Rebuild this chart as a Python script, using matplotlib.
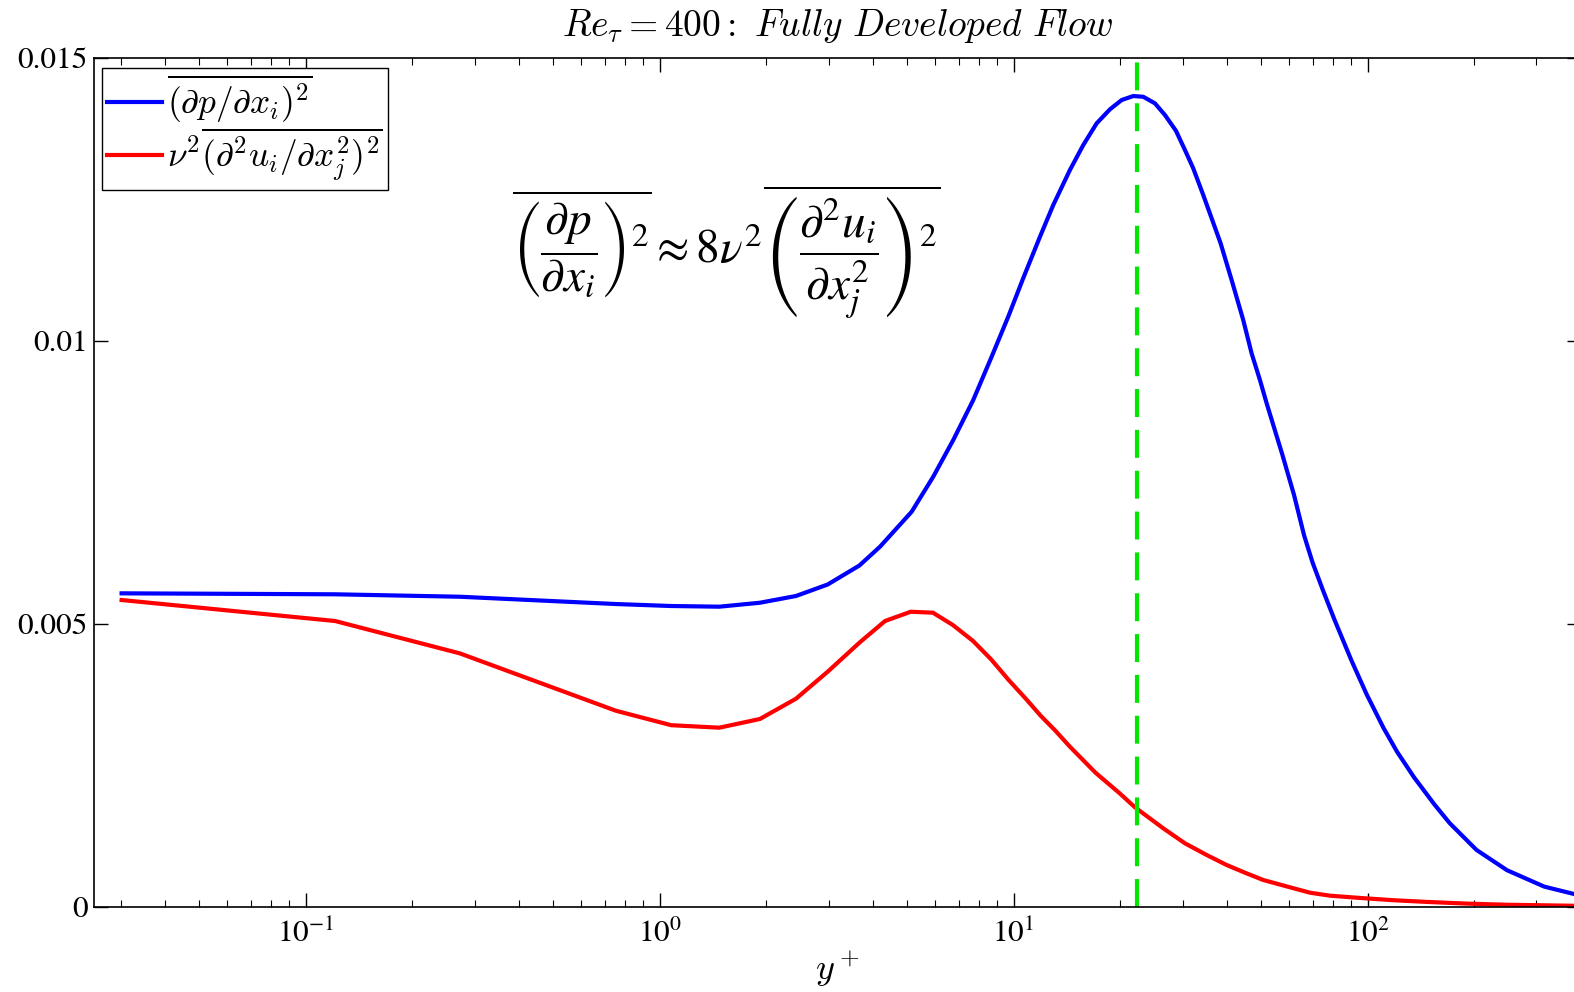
import numpy as np
import matplotlib
matplotlib.use("Agg")
import matplotlib.pyplot as plt
from matplotlib.ticker import FixedLocator, LogLocator, NullFormatter, NullLocator

plt.rcParams["font.family"] = ["STIXGeneral", "DejaVu Serif"]
plt.rcParams["mathtext.fontset"] = "stix"

# wall-normal coordinate and the two budget terms
yplus_p = [0.0302, 0.1211, 0.2723, 0.7519, 1.078, 1.474, 1.920, 2.427, 2.983, 3.667,
           4.193, 5.152, 5.928, 6.752, 7.690, 8.667, 9.654, 10.64, 11.87, 12.94,
           14.42, 15.73, 17.16, 18.71, 20.19, 21.78, 23.23, 25.07, 26.76, 28.74,
           30.48, 32.17, 34.33, 36.26, 38.44, 41.29, 44.53, 47.02, 49.64, 51.9,
           57.4, 61.97, 66.17, 69.92, 74.67, 80.68, 90.06, 99.4, 111.0, 121.2,
           135.2, 154.3, 170.3, 203.0, 247.6, 315.5, 400.0]
dpdx2 = [0.005542, 0.005525, 0.005482, 0.005353, 0.005318, 0.005306, 0.005376, 0.005495,
         0.005698, 0.006034, 0.006366, 0.006984, 0.007603, 0.008251, 0.008958, 0.009723,
         0.010429, 0.011108, 0.011843, 0.012403, 0.013021, 0.013463, 0.013846, 0.014094,
         0.014258, 0.014329, 0.014316, 0.014200, 0.013993, 0.013716, 0.013375, 0.013051,
         0.012580, 0.012168, 0.011726, 0.011078, 0.010371, 0.009783, 0.009311, 0.008892,
         0.007997, 0.007279, 0.006564, 0.006085, 0.005608, 0.005071, 0.004353, 0.003756,
         0.003159, 0.002740, 0.002293, 0.001815, 0.001486, 0.001009, 0.000650, 0.000360,
         0.000200]

yplus_u = [0.0302, 0.1211, 0.2723, 0.7519, 1.078, 1.474, 1.920, 2.427, 2.983, 3.667,
           4.332, 5.121, 5.916, 6.735, 7.680, 8.636, 9.680, 10.80, 11.94, 13.12,
           14.42, 17.03, 19.93, 22.02, 26.47, 30.48, 35.10, 39.97, 45.02, 50.71,
           60.33, 68.71, 78.27, 95.1, 118.1, 146.8, 190.4, 247.0, 400.0]
nu2_d2u = [0.005424, 0.005053, 0.004482, 0.003468, 0.003212, 0.003168, 0.003322, 0.003680,
           0.004157, 0.004670, 0.005053, 0.005217, 0.005200, 0.004982, 0.004700, 0.004376,
           0.004011, 0.003687, 0.003375, 0.003115, 0.002832, 0.002373, 0.002009, 0.001761,
           0.001390, 0.001125, 0.000919, 0.000742, 0.000606, 0.000477, 0.000348, 0.000253,
           0.000200, 0.000160, 0.000120, 0.000090, 0.000060, 0.000040, 0.000020]

yplus_peak = 22.3

yticks = [0, 0.005, 0.01, 0.015]
ytick_labels = ["0", "0.005", "0.01", "0.015"]

fig = plt.figure(figsize=(15.74, 9.92), dpi=100)
ax = fig.add_axes([0.05997, 0.08569, 0.9443, 0.8558])

ax.semilogx(yplus_p, dpdx2, color="#0000ff", lw=3.0,
            label=r"$\overline{(\partial p/\partial x_i)^2}$")
ax.semilogx(yplus_u, nu2_d2u, color="#ff0000", lw=3.0,
            label=r"$\nu^2\overline{(\partial^2 u_i/\partial x_j^2)^2}$")
ax.axvline(yplus_peak, color="#00e600", lw=3.0, dashes=(6.7, 3.1))

ax.set_xlim(0.0253, 400)
ax.set_ylim(0, 0.015)
ax.yaxis.set_major_locator(FixedLocator(yticks))
ax.set_yticklabels(ytick_labels)
ax.yaxis.set_minor_locator(NullLocator())
ax.xaxis.set_major_locator(LogLocator(base=10))
ax.xaxis.set_minor_locator(LogLocator(base=10, subs=np.arange(2, 10)))
ax.xaxis.set_minor_formatter(NullFormatter())

ax.tick_params(which="both", direction="in", top=True, right=True, labelsize=22.5)
ax.tick_params(which="major", length=10, width=1.0)
ax.tick_params(which="minor", length=4.7, width=0.8)
ax.tick_params(axis="x", pad=9)
ax.tick_params(axis="y", pad=5)
for sp in ax.spines.values():
    sp.set_linewidth(1.2)

ax.set_title(r"$Re_\tau = 400 :\ Fully\ Developed\ Flow$", fontsize=27,
             math_fontfamily="cm", pad=16)
ax.set_xlabel(r"$y^+$", fontsize=26, math_fontfamily="cm", labelpad=0)

leg = ax.legend(loc="upper left", bbox_to_anchor=(0.0049, 0.9886), borderaxespad=0,
                fancybox=False, framealpha=1, edgecolor="black",
                prop={"size": 25.5, "math_fontfamily": "cm"},
                handlelength=1.55, handletextpad=0.15, borderpad=0.15, labelspacing=0.0)
leg.get_frame().set_linewidth(1.0)

ax.text(0.425, 0.77,
        r"$\overline{\left(\dfrac{\partial p}{\partial x_i}\right)^2}\approx 8\nu^2"
        r"\overline{\left(\dfrac{\partial^2 u_i}{\partial x_j^2}\right)^2}$",
        transform=ax.transAxes, fontsize=34, ha="center", va="center")

fig.savefig("out.png", dpi=100)
